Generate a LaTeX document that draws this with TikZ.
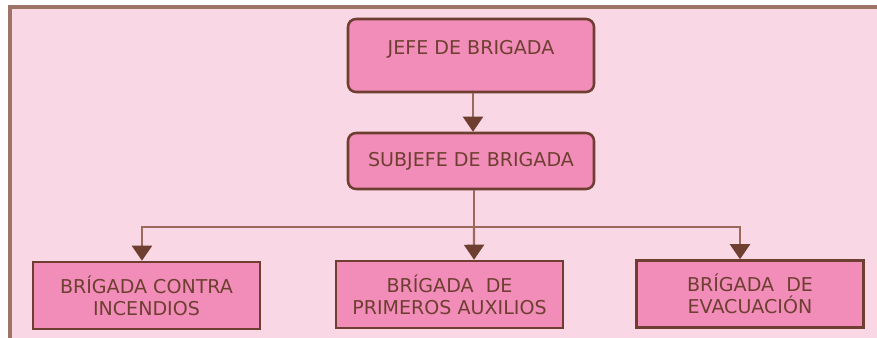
\documentclass[tikz,border=0pt]{standalone}
\usepackage{fontspec}
\setmainfont{DejaVu Sans}
\usetikzlibrary{arrows.meta}
\definecolor{bgpink}{HTML}{F9D7E4}
\definecolor{boxpink}{HTML}{F28DB9}
\definecolor{darkbrown}{HTML}{6E3F31}
\definecolor{linebrown}{HTML}{9C6A5D}
\definecolor{framebrown}{HTML}{9E7468}
\begin{document}
\begin{tikzpicture}[x=0.75pt,y=-0.75pt,
  box/.style={draw=darkbrown,fill=boxpink,line width=1.9pt,text=darkbrown,
    font=\fontsize{14.3}{16.5}\selectfont,align=center,inner sep=0pt},
  topbox/.style={box,rounded corners=6pt,minimum width=184.5pt},
  lowbox/.style={box,minimum width=170.25pt,minimum height=50.25pt},
  arr/.style={draw=linebrown,line width=1.6pt,
    -{Triangle[width=15pt,length=11.25pt,color=darkbrown]}},
  conn/.style={draw=linebrown,line width=1.6pt}]
\useasboundingbox (0,0) rectangle (877,337);
\fill[white] (0,0) rectangle (877,337);
\draw[framebrown,fill=bgpink,line width=2.4pt] (10,7) rectangle (890,350);
\node[topbox,minimum height=54.75pt,text height=10pt,text depth=11pt] (jefe) at (471,55.5) {JEFE DE BRIGADA};
\node[topbox,minimum height=42pt] (sub) at (471,161) {SUBJEFE DE BRIGADA};
\node[lowbox] (inc) at (146.5,295.5) {BRÍGADA CONTRA\\INCENDIOS};
\node[lowbox] (aux) at (449.5,294.5) {BRÍGADA\ \ DE\\PRIMEROS AUXILIOS};
\node[lowbox] (eva) at (750,294) {BRÍGADA\ \ DE\\EVACUACIÓN};
\coordinate (bus) at (474,227);
\draw[arr] ([xshift=1.5pt]jefe.south) -- ([xshift=1.5pt]sub.north);
\draw[conn] ([xshift=2.25pt]sub.south) -- (bus);
\draw[arr] (bus) -| ([xshift=-3.4pt]inc.north);
\draw[arr] (bus) -- ([xshift=18.4pt]aux.north);
\draw[arr] (bus) -| ([xshift=-7.5pt]eva.north);
\end{tikzpicture}
\end{document}
